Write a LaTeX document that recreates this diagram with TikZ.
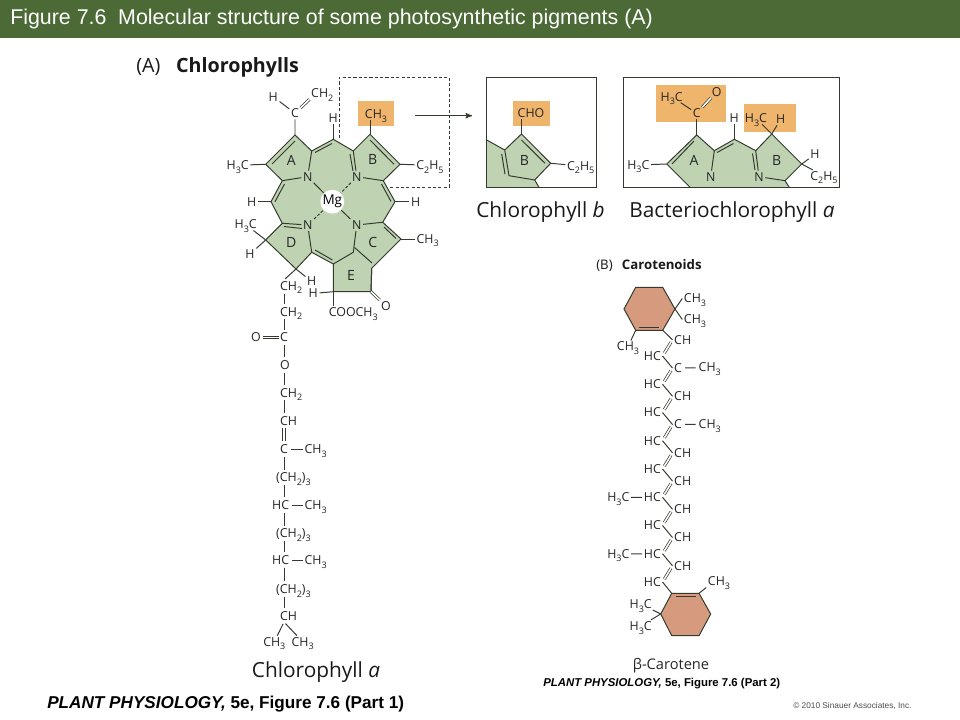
\documentclass[tikz,border=0pt]{standalone}
\usepackage{fontspec}
\usepackage{tikz}
\usetikzlibrary{arrows}
\setmainfont{Open Sans}
\newfontfamily\arialfont{Liberation Sans}
\definecolor{barcol}{HTML}{4B6A35}
\definecolor{ringcol}{HTML}{BFD3B3}
\definecolor{markcol}{HTML}{F0B56C}
\definecolor{carocol}{HTML}{D69B7E}
\definecolor{bondcol}{HTML}{333B2E}
\newcommand{\low}[1]{\raisebox{-.55ex}{\fontsize{6.4}{7}\selectfont #1}}
\newcommand{\methyl}{CH\low{3}}
\newcommand{\methylene}{CH\low{2}}
\newcommand{\hmethyl}{H\low{3}C}
\newcommand{\ethyl}{C\low{2}H\low{5}}
\newcommand{\chain}{(CH\low{2})\low{3}}

\begin{document}
\begin{tikzpicture}[x=.025cm,y=-.025cm,
		chem/.style={inner sep=1pt,text height=6.2pt,text depth=0pt,font=\fontsize{8.8}{10}\selectfont,text=black!85},
		chemw/.style={chem,anchor=west},
		letter/.style={chem,font=\fontsize{10}{11}\selectfont},
		bond/.style={draw=bondcol,line width=.7pt},
		dbl/.style={draw=bondcol,double,double distance=1.1pt,line width=.5pt},
		innerbond/.style={draw=bondcol,line width=.7pt},
		ringfill/.style={draw=bondcol,line width=.7pt,fill=ringcol},
		markbox/.style={fill=markcol,draw=none},
		framebox/.style={draw=bondcol,line width=.75pt},
		titletext/.style={inner sep=0pt,anchor=center,font=\fontsize{14.8}{17}\selectfont,text=black!90}]
	\useasboundingbox (0,0) rectangle (960,720);
	\fill[barcol] (0,0) rectangle (960,38);
	\node[inner sep=0pt,anchor=west,text=white,font=\arialfont\fontsize{15.2}{18}\selectfont] (head) at (10,19) {Figure 7.6\hspace{.55em}Molecular structure of some photosynthetic pigments (A)};
	\node[titletext,anchor=west,font=\fontsize{14}{17}\selectfont] (capA) at (136,67.5) {(A)\hspace{.8em}\textbf{Chlorophylls}};

	% ring system
	\coordinate (Atop) at (295,135);
	\coordinate (Aleft) at (265.7,164.3);
	\coordinate (Abot) at (282.3,180.7);
	\coordinate (Aright) at (311.7,151);
	\coordinate (Mtop) at (333.3,139.3);
	\coordinate (Bleft) at (353.3,151);
	\coordinate (Btop) at (370,134.3);
	\coordinate (Bright) at (400,164.3);
	\coordinate (Bbot) at (383.3,180.7);
	\coordinate (Mright) at (395,201.7);
	\coordinate (Ctop) at (382.7,222.3);
	\coordinate (Cright) at (401,239);
	\coordinate (Cbot) at (371.7,268.3);
	\coordinate (Cleft) at (353.3,252.3);
	\coordinate (Etop) at (333.3,264);
	\coordinate (Eleft) at (333.3,291.7);
	\coordinate (Eright) at (371,291.7);
	\coordinate (Dright) at (311.7,252.3);
	\coordinate (Dbot) at (296,269);
	\coordinate (Dleft) at (265.7,240);
	\coordinate (Dtop) at (282.3,223.3);
	\coordinate (Mleft) at (271,201.7);
	\fill[markbox] (358.3,100.7) rectangle (394,125.7);
	\filldraw[ringfill] (Atop) -- (Aright) -- (Mtop) -- (Bleft) -- (Btop) -- (Bright) -- (Bbot) -- (Mright) -- (Ctop) -- (Cright) -- (Cbot) -- (Eright) -- (Eleft) -- (Etop) -- (Dright) -- (Dbot) -- (Dleft) -- (Dtop) -- (Mleft) -- (Abot) -- (Aleft) -- cycle;
	\draw[innerbond] (295,141) -- (272,164);
	\draw[innerbond] (315,152.5) -- (332,143.5);
	\draw[innerbond] (394,164.3) -- (370,140);
	\draw[innerbond] (381.5,184) -- (391,201.5);
	\draw[innerbond] (275,201.7) -- (284.5,184);
	\draw[innerbond] (384,227) -- (396,238.5);
	\draw[innerbond] (354.5,247.5) -- (372,263);
	\draw[innerbond] (315,250) -- (332.5,260);
	\draw[bond] (Cleft) -- (Etop);
	\draw[bond] (Cbot) -- (Eright);

	% nitrogens and Mg
	\node[chem] (NA) at (307.7,176.7) {N};
	\node[chem] (NB) at (356.7,176.7) {N};
	\node[chem] (NC) at (356.7,225) {N};
	\node[chem] (ND) at (307.7,225) {N};
	\node[circle,fill=white,minimum size=17pt,inner sep=0pt,font=\fontsize{9.6}{10}\selectfont] (Mg) at (332.3,201.7) {Mg};
	\draw[bond] (NA) -- (Mg);
	\draw[bond] (NC) -- (Mg);
	\draw[bond,dash pattern=on 2pt off 1.3pt] (NB) -- (Mg);
	\draw[bond,dash pattern=on 2pt off 1.3pt] (ND) -- (Mg);
	\draw[bond] (Abot) -- (NA) -- (Aright);
	\draw[bond] (Bbot) -- (NB) -- (Bleft);
	\draw[innerbond] (350,154) -- (353,171);
	\draw[bond] (Ctop) -- (NC) -- (Cleft);
	\draw[bond] (Dtop) -- (ND) -- (Dright);
	\draw[innerbond] (284,226.5) -- (302,228.5);

	% ring letters
	\node[letter] (lA) at (291.3,160.7) {A};
	\node[letter] (lB) at (372.7,160) {B};
	\node[letter] (lC) at (372.7,242.7) {C};
	\node[letter] (lD) at (291.3,243.3) {D};
	\node[letter] (lE) at (351,276) {E};

	% side groups
	\node[chem] (Cv) at (295,113.3) {C};
	\node[chem] (Hv) at (273.3,96.7) {H};
	\node[chemw] (CHv) at (309.5,93.3) {\methylene};
	\node[chem] (Htop) at (333.3,118.3) {H};
	\node[chem] (MeB) at (376,114.3) {\methyl};
	\node[chem] (MeA) at (237.7,165.3) {\hmethyl};
	\node[chem] (EtB) at (430,165.3) {\ethyl};
	\node[chem] (Hleft) at (251.7,201.7) {H};
	\node[chem] (Hright) at (415.7,201.7) {H};
	\node[chem] (MeC) at (427.7,239) {\methyl};
	\node[chem] (MeD) at (245.7,224.5) {\hmethyl};
	\node[chem] (HD) at (250,254) {H};
	\node[chem] (HDb) at (311.7,281.5) {H};
	\node[chem] (HE) at (313.3,293.5) {H};
	\node[chem] (Coo) at (353.3,312.5) {COOCH\low{3}};
	\node[chem] (OE) at (386,306) {O};
	\draw[bond] (Atop) -- (Cv) -- (Hv);
	\draw[dbl] (Cv) -- (CHv.south west);
	\draw[bond] (Mtop) -- (Htop);
	\draw[bond] (Btop) -- (MeB.south -| Btop);
	\draw[bond] (Aleft) -- (MeA);
	\draw[bond] (Bright) -- (EtB);
	\draw[bond] (Mleft) -- (Hleft);
	\draw[bond] (Mright) -- (Hright);
	\draw[bond] (Cright) -- (MeC);
	\draw[bond] (Dleft) -- (MeD);
	\draw[bond] (Dleft) -- (HD);
	\draw[bond] (Dbot) -- (HDb);
	\draw[bond] (Eleft) -- (HE);
	\draw[bond] (Eleft) -- (Eleft |- Coo.north);
	\draw[dbl] (Eright) -- (OE);

	% dashed box and arrow
	\draw[draw=bondcol,line width=.5pt,dash pattern=on 2.2pt off 1.6pt] (339.3,138) -- (339.3,77.3) -- (449.3,77.3) -- (449.3,187.3) -- (390,187.3);
	\coordinate (arrA) at (415,115.7);
	\coordinate (arrB) at (472,115.7);
	\draw[bond,line width=.7pt,->,>=stealth'] (arrA) -- (arrB);

	% chlorophyll b
	\fill[markbox] (513.3,100.7) rectangle (550,125.7);
	\coordinate (Btopb) at (521.5,134);
	\fill[ringcol] (486.7,140) -- (504.7,150) -- (Btopb) -- (550.7,163.3) -- (534.7,180) -- (539,187.3) -- (486.7,187.3) -- cycle;
	\draw[bond] (486.7,140) -- (504.7,150) -- (Btopb) -- (550.7,163.3) -- (534.7,180) -- (539,187.3);
	\draw[bond] (534.7,180) -- (509,175.7) -- (504.7,150);
	\draw[innerbond] (501.7,154) -- (505,174.3);
	\draw[innerbond] (521.5,140) -- (545,163.3);
	\draw[framebox] (486.7,77.3) rectangle (596.7,187.3);
	\node[chem] (CHO) at (531,113.3) {CHO};
	\node[letter] (lBb) at (524.3,160.7) {B};
	\node[chem] (Etb) at (580.7,166) {\ethyl};
	\draw[bond] (CHO.south -| Btopb) -- (Btopb);
	\draw[bond] (550.7,163.3) -- (Etb);
	\node[titletext] (namb) at (540.5,212.5) {Chlorophyll \textit{b}};

	% bacteriochlorophyll a
	\fill[markbox] (656,85) rectangle (726,122.3);
	\fill[markbox] (744,104.3) rectangle (795.7,131.7);
	\fill[ringcol] (690,187.3) -- (666.7,164) -- (696.7,135) -- (714.3,150.7) -- (734.3,139.3) -- (755.7,150.7) -- (771.7,134) -- (801.7,164) -- (785,180.7) -- (789.3,187.3) -- cycle;
	\node[chem] (NAc) at (710.7,176.7) {N};
	\node[chem] (NBc) at (759,176.7) {N};
	\node[letter] (lAc) at (694,160.7) {A};
	\node[letter] (lBc) at (776.7,160.7) {B};
	\node[chem] (MeAc) at (638.3,165) {\hmethyl};
	\node[chem] (Cac) at (696.7,113.3) {C};
	\node[chem] (MeO) at (671.7,96.7) {\hmethyl};
	\node[chem] (Oac) at (716.7,91.7) {O};
	\node[chem] (Hmc) at (734.3,118.3) {H};
	\node[chem] (MeBc) at (756,118.3) {\hmethyl};
	\node[chem] (HBc) at (780.7,119.3) {H};
	\node[chem] (HRc) at (815,154.3) {H};
	\node[chem] (EtRc) at (824,176) {\ethyl};
	\draw[bond] (690,187.3) -- (666.7,164) -- (696.7,135) -- (714.3,150.7) -- (734.3,139.3) -- (755.7,150.7) -- (771.7,134) -- (801.7,164) -- (785,180.7) -- (789.3,187.3);
	\draw[innerbond] (694,141) -- (672,164);
	\draw[innerbond] (717,152.5) -- (733.5,143.5);
	\draw[innerbond] (752.5,153.5) -- (755,170);
	\draw[bond] (714.3,150.7) -- (NAc);
	\draw[bond] (755.7,150.7) -- (NBc) -- (785,180.7);
	\draw[bond] (666.7,164) -- (MeAc);
	\draw[bond] (696.7,135) -- (Cac);
	\draw[bond] (Cac) -- (MeO);
	\draw[dbl] (Cac) -- (Oac);
	\draw[bond] (734.3,139.3) -- (Hmc);
	\draw[bond] (771.7,134) -- (MeBc);
	\draw[bond] (771.7,134) -- (HBc);
	\draw[bond] (801.7,164) -- (HRc);
	\draw[bond] (801.7,164) -- (EtRc);
	\draw[framebox] (623.3,77.3) rectangle (839.3,187.3);
	\node[titletext] (namba) at (732,212) {Bacteriochlorophyll \textit{a}};

	% phytol tail
	\coordinate (tail) at (284,0);
	\coordinate (tailL) at (282.6,0);
	\coordinate (tailR) at (285.4,0);
	\node[chemw] (T1) at (278.5,286) {\methylene};
	\node[chemw] (T2) at (278.5,311.7) {\methylene};
	\node[chemw] (T3) at (278.5,337.3) {C};
	\node[chemw] (T4) at (278.5,365) {O};
	\node[chemw] (T5) at (278.5,392.7) {\methylene};
	\node[chemw] (T6) at (278.5,420.7) {CH};
	\node[chemw] (T7) at (278.5,449) {C};
	\node[chemw] (T8) at (274.5,477.5) {\chain};
	\node[chemw] (T9) at (270.5,505) {HC};
	\node[chemw] (T10) at (274.5,533.3) {\chain};
	\node[chemw] (T11) at (270.5,560) {HC};
	\node[chemw] (T12) at (274.5,589) {\chain};
	\node[chemw] (T13) at (278.5,616) {CH};
	\node[chem] (Ot) at (256,337.3) {O};
	\node[chemw] (Me7) at (303,449) {\methyl};
	\node[chemw] (Me9) at (303,505) {\methyl};
	\node[chemw] (Me11) at (303,560) {\methyl};
	\node[chem] (Me13a) at (274.3,641.7) {\methyl};
	\node[chem] (Me13b) at (302.7,641.7) {\methyl};
	\foreach \a/\b in {T1/T2,T2/T3,T3/T4,T4/T5,T5/T6,T7/T8,T8/T9,T9/T10,T10/T11,T11/T12,T12/T13} {
		\draw[bond,shorten <=1.2pt,shorten >=1.2pt] (\a.south -| tail) -- (\b.north -| tail);
	}
	\draw[bond,line width=.55pt,shorten <=1.2pt,shorten >=1.2pt] (T6.south -| tailL) -- (T7.north -| tailL);
	\draw[bond,line width=.55pt,shorten <=1.2pt,shorten >=1.2pt] (T6.south -| tailR) -- (T7.north -| tailR);
	\draw[bond,shorten >=1.2pt] (Dbot) -- (T1.north -| tail);
	\draw[dbl] (T3) -- (Ot);
	\draw[bond,shorten <=1pt] (T7) -- (Me7);
	\draw[bond,shorten <=1pt] (T9.east) -- (Me9);
	\draw[bond,shorten <=1pt] (T11.east) -- (Me11);
	\draw[bond,shorten <=1.5pt] (T13.south -| tail) -- (Me13a);
	\draw[bond,shorten <=1.5pt] (T13.south -| tail) -- (Me13b);
	\node[titletext] (nama) at (316,672.5) {Chlorophyll \textit{a}};

	% carotene
	\node[inner sep=0pt,anchor=west,font=\fontsize{9.4}{11}\selectfont,text=black!90] (capB) at (596,266) {(B)\hspace{.7em}\textbf{Carotenoids}};
	\coordinate (TopR1) at (635.7,287.3);
	\coordinate (TopR2) at (662.7,287.3);
	\coordinate (TopR3) at (675,309);
	\coordinate (TopR4) at (662.7,330.3);
	\coordinate (TopR5) at (635.7,330.3);
	\coordinate (TopR6) at (624,309);
	\coordinate (LowR1) at (671.7,593.3);
	\coordinate (LowR2) at (699,593.3);
	\coordinate (LowR3) at (710.7,614);
	\coordinate (LowR4) at (699,635.7);
	\coordinate (LowR5) at (671.7,635.7);
	\coordinate (LowR6) at (660.7,614);
	\filldraw[bond,fill=carocol] (TopR1) -- (TopR2) -- (TopR3) -- (TopR4) -- (TopR5) -- (TopR6) -- cycle;
	\draw[innerbond] (639,327) -- (659.3,327);
	\filldraw[bond,fill=carocol] (LowR1) -- (LowR2) -- (LowR3) -- (LowR4) -- (LowR5) -- (LowR6) -- cycle;
	\draw[innerbond] (675.7,596.2) -- (695.7,596.2);
	\foreach \i/\lab in {0/CH,1/C,2/CH,3/C,4/CH,5/CH,6/CH,7/CH,8/CH} {
		\pgfmathsetmacro{\ry}{339.8+28.25*\i}
		\pgfmathsetmacro{\ly}{356+28.25*\i}
		\node[chemw] (R\i) at (672.5,\ry) {\lab};
		\node[chem,anchor=east] (L\i) at (662.5,\ly) {HC};
		\draw[dbl,shorten <=2.5pt,shorten >=2pt] (L\i.east) -- (R\i.west);
	}
	\foreach \i in {0,...,7} {
		\pgfmathtruncatemacro{\j}{\i + 1}
		\draw[bond] (L\i.east) -- (R\j.west);
	}
	\node[chemw] (Mr1) at (697,367.6) {\methyl};
	\node[chemw] (Mr3) at (697,424.2) {\methyl};
	\node[chem] (Ml5) at (618.3,497.3) {\hmethyl};
	\node[chem] (Ml7) at (618.3,553.8) {\hmethyl};
	\draw[bond,shorten <=1pt,shorten >=1pt] (R1) -- (Mr1);
	\draw[bond,shorten <=1pt,shorten >=1pt] (R3) -- (Mr3);
	\draw[bond] (L5) -- (Ml5);
	\draw[bond] (L7) -- (Ml7);
	\node[chem] (Ct1) at (695,298.5) {\methyl};
	\node[chem] (Ct2) at (695,319.5) {\methyl};
	\node[chem] (Ct3) at (628,346.5) {\methyl};
	\node[chem] (Cb1) at (719,581.5) {\methyl};
	\node[chem] (Cb2) at (640.7,604) {\hmethyl};
	\node[chem] (Cb3) at (640.7,626) {\hmethyl};
	\draw[bond] (TopR3) -- (Ct1.west);
	\draw[bond] (TopR3) -- (Ct2.west);
	\draw[bond] (TopR5) -- (Ct3);
	\draw[bond] (TopR4) -- (R0.west);
	\draw[bond] (L8.east) -- (LowR1);
	\draw[bond] (LowR2) -- (Cb1.south west);
	\draw[bond] (LowR6) -- (Cb2);
	\draw[bond] (LowR6) -- (Cb3);
	\node[inner sep=0pt,font=\fontsize{10.4}{12}\selectfont,text=black!85] (namc) at (671,665.5) {β-Carotene};

	% footer
	\node[inner sep=0pt,anchor=west,font=\arialfont\bfseries\fontsize{12.2}{14}\selectfont,text=black] (foot1) at (47,704) {\textit{PLANT PHYSIOLOGY,} 5e, Figure 7.6 (Part 1)};
	\node[inner sep=0pt,anchor=west,font=\arialfont\bfseries\fontsize{8.1}{10}\selectfont,text=black] (foot2) at (543,684) {\textit{PLANT PHYSIOLOGY,} 5e, Figure 7.6 (Part 2)};
	\node[inner sep=0pt,anchor=west,font=\arialfont\fontsize{5.9}{7}\selectfont,text=black!70] (copy) at (793,706) {© 2010 Sinauer Associates, Inc.};
\end{tikzpicture}
\end{document}
